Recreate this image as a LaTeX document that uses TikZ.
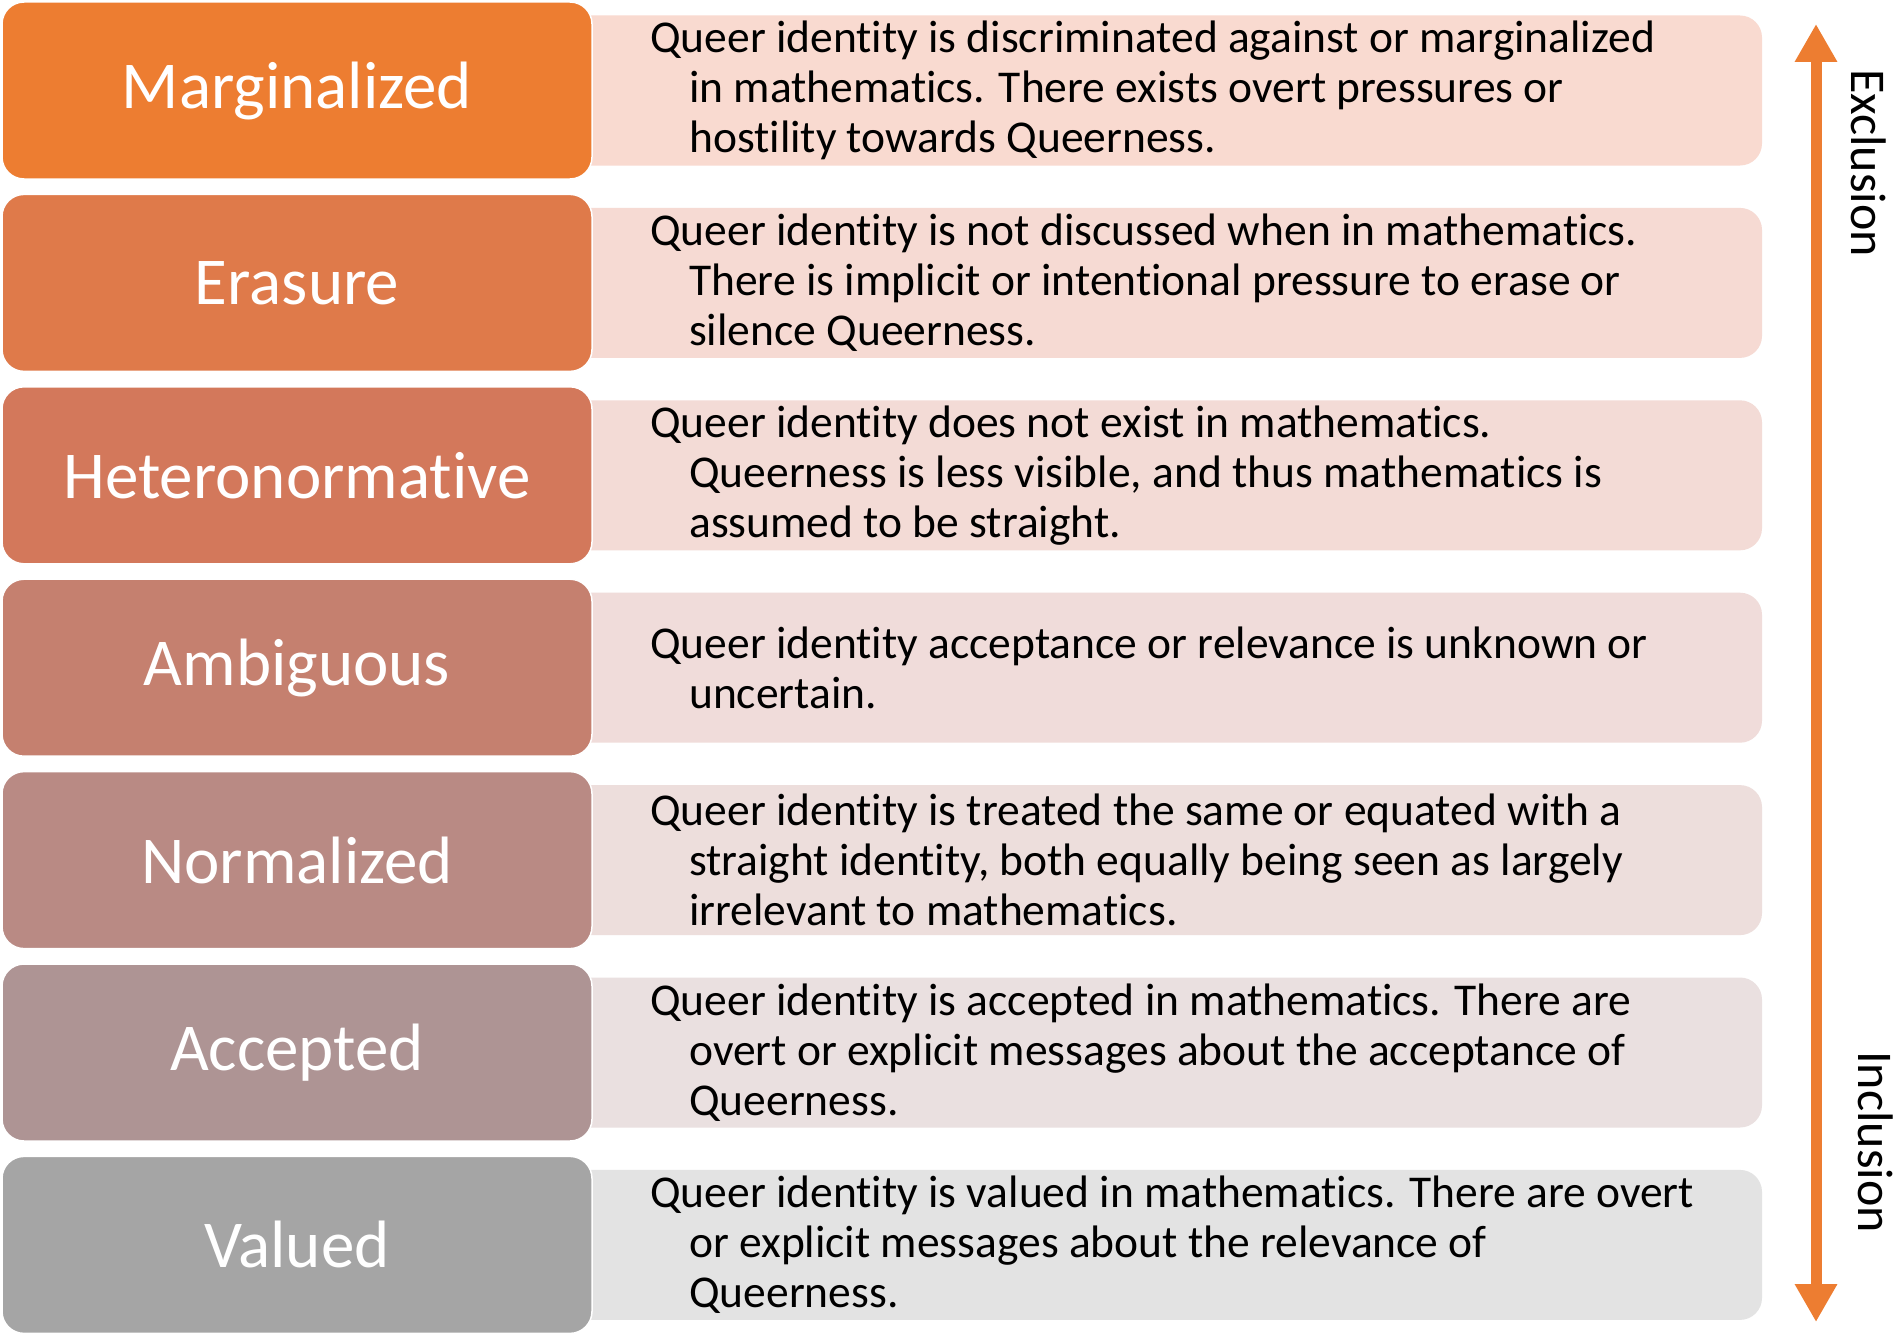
\documentclass[tikz,border=0pt]{standalone}
\usepackage{fontspec}
\setmainfont[Ligatures=NoCommon]{Carlito}
\usetikzlibrary{arrows.meta}
\definecolor{cA}{HTML}{ED7D31}
\definecolor{cB}{HTML}{DF7A4A}
\definecolor{cC}{HTML}{D3785B}
\definecolor{cD}{HTML}{C5806F}
\definecolor{cE}{HTML}{B98A84}
\definecolor{cF}{HTML}{AE9494}
\definecolor{cG}{HTML}{A5A5A5}
\definecolor{dA}{HTML}{F9DAD0}
\definecolor{dB}{HTML}{F6DAD3}
\definecolor{dC}{HTML}{F3DBD6}
\definecolor{dD}{HTML}{F0DCDA}
\definecolor{dE}{HTML}{EDDEDC}
\definecolor{dF}{HTML}{EAE0E0}
\definecolor{dG}{HTML}{E3E3E3}
\tikzset{
  lbox/.style={rounded corners=22pt, minimum width=590pt, minimum height=177pt,
    draw=white, line width=1.5pt, text=white, inner sep=0pt,
    font=\fontsize{67pt}{80pt}\selectfont},
  rbox/.style={rounded corners=22pt, minimum width=1202pt, minimum height=150pt, inner sep=0pt},
  desc/.style={anchor=west, align=left, inner sep=0pt, text=black,
    font=\fontsize{45.5pt}{50pt}\selectfont},
  side/.style={rotate=-90, inner sep=0pt, text=black,
    font=\fontsize{50pt}{60pt}\selectfont},
  axis/.style={draw=cA, line width=11pt,
    {Triangle[length=38pt,width=40pt]}-{Triangle[length=38pt,width=40pt]}}
}
\newcommand{\ind}{\hspace*{39pt}}
\begin{document}
\begin{tikzpicture}[x=1pt,y=-1pt]
\useasboundingbox (0,0) rectangle (1901,1338);
\fill[white] (0,0) rectangle (1901,1338);
% right boxes
\node[rbox, fill=dA] (r1) at (1161, 90.5) {};
\node[rbox, fill=dB] (r2) at (1161, 282.9) {};
\node[rbox, fill=dC] (r3) at (1161, 475.3) {};
\node[rbox, fill=dD] (r4) at (1161, 667.7) {};
\node[rbox, fill=dE] (r5) at (1161, 860.1) {};
\node[rbox, fill=dF] (r6) at (1161, 1052.5) {};
\node[rbox, fill=dG] (r7) at (1161, 1244.9) {};
% left boxes
\node[lbox, fill=cA] (l1) at (297, 90.5) {Marginalized};
\node[lbox, fill=cB] (l2) at (297, 282.9) {Erasure};
\node[lbox, fill=cC] (l3) at (297, 475.3) {Heteronormative};
\node[lbox, fill=cD] (l4) at (297, 667.7) {Ambiguous};
\node[lbox, fill=cE] (l5) at (297, 860.1) {Normalized};
\node[lbox, fill=cF] (l6) at (297, 1052.5) {Accepted};
\node[lbox, fill=cG] (l7) at (297, 1244.9) {Valued};
% descriptions
\node[desc] (t1) at (650, 90.5) {Queer identity is discriminated against or marginalized\\\ind in mathematics. There exists overt pressures or\\\ind hostility towards Queerness.};
\node[desc] (t2) at (650, 282.9) {Queer identity is not discussed when in mathematics.\\\ind There is implicit or intentional pressure to erase or\\\ind silence Queerness.};
\node[desc] (t3) at (650, 475.3) {Queer identity does not exist in mathematics.\\\ind Queerness is less visible, and thus mathematics is\\\ind assumed to be straight.};
\node[desc] (t4) at (650, 667.7) {Queer identity acceptance or relevance is unknown or\\\ind uncertain.};
\node[desc] (t5) at (650, 860.1) {Queer identity is treated the same or equated with a\\\ind straight identity, both equally being seen as largely\\\ind irrelevant to mathematics.};
\node[desc] (t6) at (650, 1052.5) {Queer identity is accepted in mathematics. There are\\\ind overt or explicit messages about the acceptance of\\\ind Queerness.};
\node[desc] (t7) at (650, 1244.9) {Queer identity is valued in mathematics. There are overt\\\ind or explicit messages about the relevance of\\\ind Queerness.};
% axis
\coordinate (atop) at (1816, 24);
\coordinate (abot) at (1816, 1322);
\draw[axis] (atop) -- (abot);
\node[side] (ex) at (1869, 163) {Exclusion};
\node[side] (in) at (1876, 1142) {Inclusion};
\end{tikzpicture}
\end{document}
